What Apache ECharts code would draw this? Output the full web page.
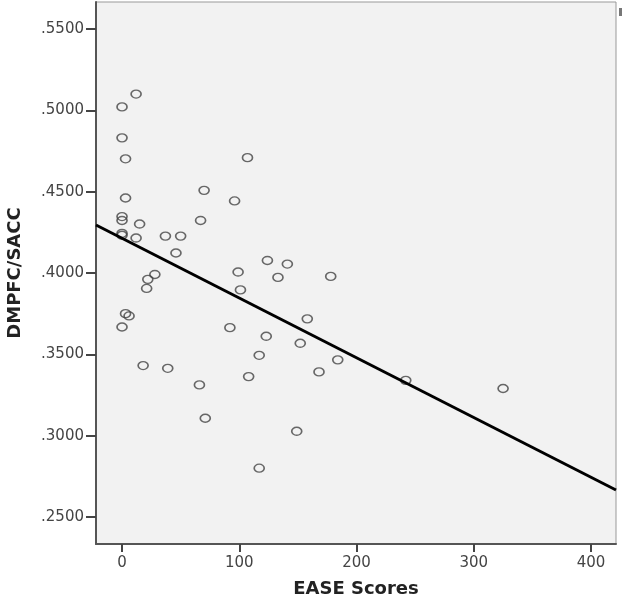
<!DOCTYPE html>
<html>
<head>
<meta charset="utf-8">
<script src="https://cdn.jsdelivr.net/npm/echarts@6/dist/echarts.min.js"></script>
<style>
  html, body { margin: 0; padding: 0; background: #fff; }
  #chart { width: 622px; height: 598px; }
</style>
</head>
<body>
<div id="chart"></div>
<script>
// EASE score vs DMPFC/SACC, one pair per subject
var easeScores = [12, 0, 0, 3, 107, 3, 70, 96, 0, 0, 15, 0, 0, 12, 37, 50, 67, 46, 28, 22, 21, 3, 6, 0,
                  18, 39, 66, 71, 99, 101, 124, 133, 141, 92, 123, 117, 108, 178, 158, 152, 184, 168,
                  149, 117, 242, 325];
var dmpfcSacc = [0.5100, 0.5021, 0.4831, 0.4702, 0.4709, 0.4461, 0.4508, 0.4443, 0.4347, 0.4323, 0.4301,
                 0.4244, 0.4232, 0.4215, 0.4227, 0.4227, 0.4323, 0.4123, 0.3991, 0.3961, 0.3905, 0.3750,
                 0.3736, 0.3668, 0.3431, 0.3414, 0.3312, 0.3107, 0.4006, 0.3896, 0.4077, 0.3973, 0.4055,
                 0.3664, 0.3611, 0.3494, 0.3363, 0.3979, 0.3718, 0.3568, 0.3466, 0.3392, 0.3027, 0.2800,
                 0.3340, 0.3290];
// fit line, read at both plot edges
var fitX = [-22.2, 421.3];
var fitY = [0.4295, 0.2666];

var xTicks = [0, 100, 200, 300, 400];
var yTicks = [0.25, 0.30, 0.35, 0.40, 0.45, 0.50, 0.55];

var points = [];
for (var i = 0; i < easeScores.length; i++) {
    points.push([easeScores[i], dmpfcSacc[i]]);
}
var fitLine = [[fitX[0], fitY[0]], [fitX[1], fitY[1]]];

var myChart = echarts.init(document.getElementById('chart'));
var option = {
    animation: false,
    grid: {
        left: 96, right: 6, top: 2, bottom: 54,
        outerBoundsMode: 'none',
        containLabel: false,
        show: true,
        backgroundColor: '#f2f2f2',
        borderColor: '#999',
        borderWidth: 1
    },
    xAxis: {
        type: 'value',
        min: -22.2,
        max: 421.3,
        name: 'EASE Scores',
        nameLocation: 'middle',
        nameGap: 36,
        nameTextStyle: { fontFamily: 'DejaVu Sans', fontWeight: 'bold', fontSize: 18, color: '#222' },
        splitLine: { show: false },
        axisLine: { onZero: false, lineStyle: { color: '#555', width: 2 } },
        axisTick: { customValues: xTicks, length: 8, lineStyle: { color: '#444', width: 2 } },
        axisLabel: {
            customValues: xTicks,
            margin: 12,
            fontFamily: 'DejaVu Sans',
            fontSize: 15,
            color: '#444'
        }
    },
    yAxis: {
        type: 'value',
        min: 0.2334,
        max: 0.5666,
        name: 'DMPFC/SACC',
        nameLocation: 'middle',
        nameGap: 72,
        nameRotate: 90,
        nameTextStyle: { fontFamily: 'DejaVu Sans', fontWeight: 'bold', fontSize: 18, color: '#222' },
        splitLine: { show: false },
        axisLine: { show: true, onZero: false, lineStyle: { color: '#555', width: 2 } },
        axisTick: { show: true, customValues: yTicks, length: 10, lineStyle: { color: '#444', width: 2 } },
        axisLabel: {
            customValues: yTicks,
            margin: 12,
            fontFamily: 'DejaVu Sans',
            fontSize: 15,
            color: '#444',
            formatter: function (v) { return v.toFixed(4).replace(/^0/, ''); }
        }
    },
    graphic: [{
        type: 'rect',
        shape: { x: 619, y: 8, width: 3, height: 8 },
        style: { fill: '#777' }
    }],
    series: [
        {
            type: 'scatter',
            data: points,
            symbol: 'circle',
            symbolSize: [10, 8],
            itemStyle: { color: 'rgba(0,0,0,0)', borderColor: '#444', borderWidth: 1.5 },
            z: 3
        },
        {
            type: 'line',
            data: fitLine,
            symbol: 'none',
            lineStyle: { color: '#000', width: 3 },
            z: 4
        }
    ]
};
myChart.setOption(option);
</script>
</body>
</html>
